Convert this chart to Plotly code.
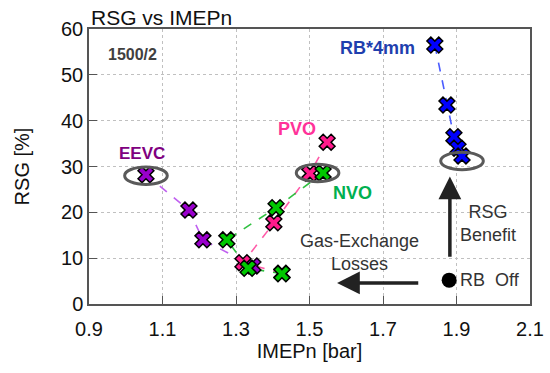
import plotly.graph_objects as go

# ---- data ----
eevc_x = [1.055, 1.172, 1.210, 1.346]
eevc_y = [28.2, 20.5, 14.0, 8.3]

pvo_x = [1.425, 1.319, 1.403, 1.501, 1.548]
pvo_y = [6.7, 9.0, 17.7, 28.5, 35.3]

nvo_x = [1.425, 1.333, 1.275, 1.409, 1.537]
nvo_y = [6.6, 7.8, 14.0, 21.0, 28.6]

rb_x = [1.841, 1.874, 1.893, 1.904, 1.915]
rb_y = [56.5, 43.4, 36.5, 34.0, 32.3]

rboff_x = [1.880]
rboff_y = [5.2]

x_ticks = [0.9, 1.1, 1.3, 1.5, 1.7, 1.9, 2.1]
y_ticks = [0, 10, 20, 30, 40, 50, 60]

FONT = "Liberation Sans, Arial, sans-serif"

series = [
    (eevc_x, eevc_y, "#9900cc", "#c060f0"),
    (pvo_x, pvo_y, "#ff1a8c", "#ff5aa8"),
    (nvo_x, nvo_y, "#00c800", "#30c040"),
    (rb_x, rb_y, "#0000ff", "#4a5cff"),
]

fig = go.Figure()
for xs, ys, mc, lc in series:
    fig.add_trace(go.Scatter(x=xs, y=ys, mode="lines",
                             line=dict(color=lc, width=1.6, dash="dash"),
                             hoverinfo="skip", showlegend=False))
for xs, ys, mc, lc in series:
    fig.add_trace(go.Scatter(x=xs, y=ys, mode="markers",
                             marker=dict(symbol="x", size=14, color=mc,
                                         line=dict(color="black", width=1.5)),
                             showlegend=False))

fig.add_trace(go.Scatter(x=rboff_x, y=rboff_y, mode="markers",
                         marker=dict(symbol="circle", size=15, color="black"),
                         showlegend=False))

# ellipses
ell_line = dict(color="#5a5a5a", width=3)
for cx, cy in [(1.055, 28.0), (1.522, 28.6), (1.915, 31.2)]:
    fig.add_shape(type="circle", xref="x", yref="y",
                  x0=cx - 0.058, x1=cx + 0.058, y0=cy - 1.9, y1=cy + 1.9,
                  line=ell_line)

ann = []
def txt(x, y, s, color, size, bold=True, xanchor="center"):
    ann.append(dict(x=x, y=y, xref="x", yref="y", text=("<b>%s</b>" % s) if bold else s,
                    showarrow=False, xanchor=xanchor, yanchor="middle",
                    font=dict(family=FONT, size=size, color=color)))

txt(1.017, 54.4, "1500/2", "#404040", 16)
txt(1.045, 32.8, "EEVC", "#800080", 17)
txt(1.466, 38.2, "PVO", "#ff3399", 18)
txt(1.618, 24.3, "NVO", "#00b050", 18)
txt(1.686, 55.9, "RB*4mm", "#1f3fae", 18)
txt(1.986, 17.6, "RSG<br>Benefit", "#333333", 18, bold=False)
txt(1.637, 11.2, "Gas-Exchange<br>Losses", "#333333", 18, bold=False)
txt(1.905, 5.2, "RB  Off", "#333333", 18, bold=False, xanchor="left")

# arrows
ann.append(dict(x=1.882, y=27.8, ax=1.882, ay=10.0, xref="x", yref="y",
                axref="x", ayref="y", text="", showarrow=True, arrowhead=2,
                arrowsize=1.3, arrowwidth=3.5, arrowcolor="#222222"))
ann.append(dict(x=1.575, y=4.6, ax=1.80, ay=4.6, xref="x", yref="y",
                axref="x", ayref="y", text="", showarrow=True, arrowhead=2,
                arrowsize=1.3, arrowwidth=3.5, arrowcolor="#222222"))

# title
ann.append(dict(x=0.0, y=1.0, xref="paper", yref="paper", xanchor="left",
                yanchor="middle", yshift=12, text="RSG vs IMEPn", showarrow=False,
                font=dict(family=FONT, size=21, color="#111111")))

fig.update_layout(
    width=550, height=373,
    margin=dict(l=89, r=20, t=29, b=69),
    paper_bgcolor="white", plot_bgcolor="white",
    annotations=ann,
    font=dict(family=FONT, size=20, color="#111111"),
    showlegend=False,
)
fig.update_xaxes(range=[0.9, 2.1], tickvals=x_ticks,
                 ticktext=["%.1f" % v for v in x_ticks],
                 showgrid=True, gridcolor="#c0c0c0", griddash="dot", gridwidth=1,
                 showline=True, linecolor="#555555", linewidth=1.5, mirror=True,
                 ticks="inside", ticklen=8, tickcolor="#555555",
                 zeroline=False, automargin=False, ticklabelstandoff=6,
                 title=dict(text="IMEPn [bar]", font=dict(size=20), standoff=4),
                 tickfont=dict(size=20))
fig.update_yaxes(range=[0, 60], tickvals=y_ticks,
                 showgrid=True, gridcolor="#c0c0c0", griddash="dot", gridwidth=1,
                 showline=True, linecolor="#555555", linewidth=1.5, mirror=True,
                 ticks="inside", ticklen=8, tickcolor="#555555",
                 zeroline=False, automargin=False,
                 title=dict(text="RSG [%]", font=dict(size=20), standoff=26),
                 tickfont=dict(size=20))

# remove the page's default 8px body margin so the figure sits at the window origin
fig.write_html("out.html", config={"displayModeBar": False},
               post_script="document.body.style.margin='0';")
